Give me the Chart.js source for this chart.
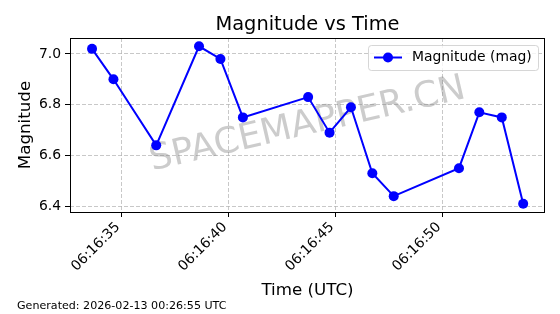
<!DOCTYPE html>
<html>
<head>
<meta charset="utf-8">
<script src="https://cdn.jsdelivr.net/npm/chart.js@4/dist/chart.umd.min.js"></script>
<style>
html,body{margin:0;padding:0;background:#fff;}
#wrap{width:560px;height:314px;position:relative;}
</style>
</head>
<body>
<div id="wrap"><canvas id="c" width="560" height="314"></canvas></div>
<script>
// ---- data (seconds after 06:16:00 UTC) ----
const timeSec = [33.6, 34.6, 36.6, 38.6, 39.6, 40.65, 43.7, 44.7, 45.7, 46.7, 47.7, 50.75, 51.7, 52.75, 53.75];
const magnitude = [7.02, 6.90, 6.64, 7.03, 6.98, 6.75, 6.83, 6.69, 6.79, 6.53, 6.44, 6.55, 6.77, 6.75, 6.41];
const xTickSec = [35, 40, 45, 50];
const xTickLabels = ['06:16:35', '06:16:40', '06:16:45', '06:16:50'];
const yTickValues = [6.4, 6.6, 6.8, 7.0];
const seriesLabel = 'Magnitude (mag)';
const titleText = 'Magnitude vs Time';
const xTitle = 'Time (UTC)';
const yTitle = 'Magnitude';
const watermark = 'SPACEMAPPER.CN';
const footer = 'Generated: 2026-02-13 00:26:55 UTC';

const FONT = '"DejaVu Sans", sans-serif';
const gridColor = 'rgba(176,176,176,0.7)';

const decor = {
  id: 'decor',
  beforeDatasetsDraw(chart) {
    const ctx = chart.ctx, a = chart.chartArea;
    ctx.save();
    ctx.translate((a.left + a.right) / 2, (a.top + a.bottom) / 2);
    ctx.rotate(-13 * Math.PI / 180);
    ctx.font = '36px ' + FONT;
    ctx.fillStyle = 'rgba(128,128,128,0.4)';
    ctx.textAlign = 'center';
    ctx.textBaseline = 'middle';
    ctx.fillText(watermark, 0, 0);
    ctx.restore();
  },
  afterDraw(chart) {
    const ctx = chart.ctx, a = chart.chartArea;
    ctx.save();
    // spines
    ctx.strokeStyle = '#000';
    ctx.lineWidth = 1;
    ctx.strokeRect(Math.round(a.left) + 0.5, Math.round(a.top) + 0.5, Math.round(a.right - a.left) - 1, Math.round(a.bottom - a.top));
    // title
    ctx.fillStyle = '#000';
    ctx.textAlign = 'center';
    ctx.textBaseline = 'alphabetic';
    ctx.font = '19.4px ' + FONT;
    ctx.fillText(titleText, (a.left + a.right) / 2, 30);
    // x title
    ctx.font = '16.7px ' + FONT;
    ctx.fillText(xTitle, (a.left + a.right) / 2, 295);
    // y title
    ctx.save();
    ctx.translate(29.5, (a.top + a.bottom) / 2);
    ctx.rotate(-Math.PI / 2);
    ctx.fillText(yTitle, 0, 0);
    ctx.restore();
    // footer
    ctx.textAlign = 'left';
    ctx.font = '11.1px ' + FONT;
    ctx.fillText(footer, 17, 309);
    // legend
    const bx = 368.5, by = 45.5, bw = 170, bh = 25, r = 3;
    ctx.beginPath();
    ctx.moveTo(bx + r, by);
    ctx.arcTo(bx + bw, by, bx + bw, by + bh, r);
    ctx.arcTo(bx + bw, by + bh, bx, by + bh, r);
    ctx.arcTo(bx, by + bh, bx, by, r);
    ctx.arcTo(bx, by, bx + bw, by, r);
    ctx.closePath();
    ctx.fillStyle = 'rgba(255,255,255,0.8)';
    ctx.fill();
    ctx.strokeStyle = 'rgba(204,204,204,0.8)';
    ctx.stroke();
    const ly = 57.5;
    ctx.strokeStyle = '#0000ff';
    ctx.lineWidth = 2;
    ctx.beginPath();
    ctx.moveTo(374, ly);
    ctx.lineTo(402, ly);
    ctx.stroke();
    ctx.fillStyle = '#0000ff';
    ctx.beginPath();
    ctx.arc(388, ly, 5, 0, Math.PI * 2);
    ctx.fill();
    ctx.fillStyle = '#000';
    ctx.font = '13.9px ' + FONT;
    ctx.textBaseline = 'middle';
    ctx.fillText(seriesLabel, 412, ly);
    ctx.restore();
  }
};

const gridOpts = {
  color: gridColor,
  lineWidth: 1,
  drawTicks: true,
  tickLength: 5,
  tickColor: '#000',
  tickBorderDash: [],
  tickWidth: 1
};

new Chart(document.getElementById('c'), {
  type: 'line',
  data: {
    datasets: [{
      label: seriesLabel,
      data: timeSec.map((t, i) => ({ x: t, y: magnitude[i] })),
      borderColor: '#0000ff',
      backgroundColor: '#0000ff',
      borderWidth: 2,
      pointRadius: 5,
      pointBorderWidth: 0,
      pointBackgroundColor: '#0000ff',
      tension: 0,
      fill: false,
      clip: false
    }]
  },
  options: {
    responsive: false,
    animation: false,
    devicePixelRatio: 1,
    layout: { padding: { left: 0, right: 15, top: 38, bottom: 0 } },
    plugins: { legend: { display: false }, title: { display: false }, tooltip: { enabled: false } },
    scales: {
      x: {
        type: 'linear',
        min: 32.57,
        max: 54.77,
        afterBuildTicks(scale) { scale.ticks = xTickSec.map(v => ({ value: v })); },
        afterFit(scale) { scale.height = 102; },
        ticks: {
          autoSkip: false,
          minRotation: 45,
          maxRotation: 45,
          padding: 2,
          labelOffset: -4,
          color: '#000',
          font: { family: FONT, size: 13.9 },
          callback(v) { const i = xTickSec.indexOf(v); return i >= 0 ? xTickLabels[i] : ''; }
        },
        grid: gridOpts,
        border: { display: false, dash: [4, 2] }
      },
      y: {
        type: 'linear',
        min: 6.3775,
        max: 7.0627,
        afterBuildTicks(scale) { scale.ticks = yTickValues.map(v => ({ value: v })); },
        afterFit(scale) { scale.width = 70; },
        ticks: {
          padding: 4,
          color: '#000',
          font: { family: FONT, size: 13.9 },
          callback(v) { return Number(v).toFixed(1); }
        },
        grid: gridOpts,
        border: { display: false, dash: [4, 2] }
      }
    }
  },
  plugins: [decor]
});
</script>
</body>
</html>
